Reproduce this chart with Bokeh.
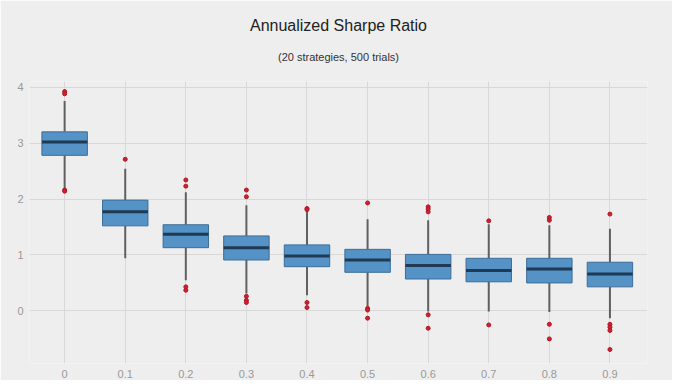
from bokeh.plotting import figure
from bokeh.models import Range1d, FixedTicker, Title, ColumnDataSource
from bokeh.embed import file_html
from bokeh.resources import INLINE

title_text = "Annualized Sharpe Ratio"
subtitle_text = "(20 strategies, 500 trials)"
labels = ["0", "0.1", "0.2", "0.3", "0.4", "0.5", "0.6", "0.7", "0.8", "0.9"]
q1 = [2.78, 1.52, 1.13, 0.91, 0.79, 0.69, 0.57, 0.52, 0.50, 0.43]
med = [3.02, 1.77, 1.37, 1.13, 0.98, 0.91, 0.81, 0.72, 0.75, 0.66]
q3 = [3.20, 1.98, 1.54, 1.34, 1.18, 1.10, 1.01, 0.94, 0.94, 0.87]
lo_w = [2.19, 0.94, 0.55, 0.31, 0.28, 0.08, -0.01, -0.01, -0.02, -0.13]
hi_w = [3.75, 2.54, 2.12, 1.89, 1.80, 1.64, 1.62, 1.55, 1.53, 1.47]
outliers = [
    [3.92, 3.88, 2.16, 2.14],
    [2.71],
    [2.34, 2.23, 0.43, 0.37],
    [2.16, 2.04, 0.26, 0.19, 0.15],
    [1.83, 1.81, 0.15, 0.06],
    [1.93, 0.045, 0.015, -0.13],
    [1.86, 1.82, 1.77, -0.07, -0.31],
    [1.61, -0.25],
    [1.67, 1.62, -0.24, -0.50],
    [1.73, -0.24, -0.29, -0.35, -0.69],
]

xs = list(range(len(labels)))
box_w = 0.75
src = ColumnDataSource(dict(x=xs, q1=q1, med=med, q3=q3, lo=lo_w, hi=hi_w,
                            ml=[x - box_w / 2 for x in xs], mr=[x + box_w / 2 for x in xs]))
ox = [xs[i] for i, o in enumerate(outliers) for _ in o]
oy = [v for o in outliers for v in o]

bg = "#eeeeee"
p = figure(width=672, height=380, output_backend="svg", toolbar_location=None,
           x_range=Range1d(-0.58, 9.62), y_range=Range1d(-0.94, 4.10),
           background_fill_color=bg, border_fill_color=bg,
           min_border_left=29, min_border_right=25, min_border_bottom=0, min_border_top=10)
p.outline_line_color = None

# spacer between frame and subtitle
p.add_layout(Title(text=" ", align="center", text_font_size="1px", standoff=14,
                   text_color=bg), "above")
p.add_layout(Title(text=subtitle_text, align="center", text_font="Liberation Sans",
                   text_font_size="11px", text_font_style="normal", text_color="#333333",
                   standoff=3), "above")
p.add_layout(Title(text=title_text, align="center", text_font="Liberation Sans",
                   text_font_size="16px", text_font_style="normal", text_color="#222222",
                   standoff=28), "above")

p.segment(x0="x", y0="q3", x1="x", y1="hi", source=src, line_color="#606060", line_width=2)
p.segment(x0="x", y0="q1", x1="x", y1="lo", source=src, line_color="#606060", line_width=2)
p.vbar(x="x", bottom="q1", top="q3", width=box_w, source=src,
       fill_color="#5592c6", line_color="#3d6d98", line_width=1)
p.segment(x0="ml", y0="med", x1="mr", y1="med", source=src, line_color="#1f3a52", line_width=3)
p.scatter(ox, oy, size=4, fill_color="#d0202e", line_color="#b01828")

p.xaxis.ticker = FixedTicker(ticks=xs)
p.xaxis.major_label_overrides = {i: l for i, l in enumerate(labels)}
p.yaxis.ticker = FixedTicker(ticks=[0, 1, 2, 3, 4])
for ax in (p.xaxis[0], p.yaxis[0]):
    ax.axis_line_color = None
    ax.major_tick_line_color = None
    ax.minor_tick_line_color = None
    ax.major_tick_out = 0
    ax.major_tick_in = 0
    ax.minor_tick_out = 0
    ax.major_label_text_color = "#999999"
    ax.major_label_text_font = "Liberation Sans"
    ax.major_label_text_font_size = "11px"
p.xaxis.major_label_standoff = 6
p.yaxis.major_label_standoff = 6
p.xgrid.ticker = FixedTicker(ticks=xs)
p.ygrid.ticker = FixedTicker(ticks=[0, 1, 2, 3, 4])
p.grid.grid_line_color = "#d8d8d8"
p.grid.grid_line_width = 1

open("out.html", "w").write(file_html(p, INLINE))
